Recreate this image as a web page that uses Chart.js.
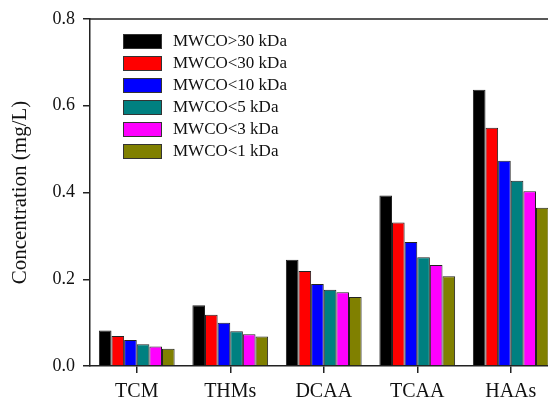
<!DOCTYPE html>
<html>
<head>
<meta charset="utf-8">
<script src="https://cdn.jsdelivr.net/npm/chart.js@4/dist/chart.umd.min.js"></script>
<style>
html,body{margin:0;padding:0;background:#fff;overflow:hidden;width:548px;height:397px;}
canvas{display:block;}
</style>
</head>
<body>
<canvas id="c" width="560" height="397"></canvas>
<script>
const categories = ['TCM', 'THMs', 'DCAA', 'TCAA', 'HAAs'];
const seriesLabels = ['MWCO>30 kDa', 'MWCO<30 kDa', 'MWCO<10 kDa', 'MWCO<5 kDa', 'MWCO<3 kDa', 'MWCO<1 kDa'];
const mwcoAbove30 = [0.082, 0.140, 0.245, 0.393, 0.637];
const mwcoBelow30 = [0.069, 0.118, 0.219, 0.331, 0.549];
const mwcoBelow10 = [0.060, 0.100, 0.189, 0.286, 0.473];
const mwcoBelow5  = [0.050, 0.080, 0.176, 0.251, 0.427];
const mwcoBelow3  = [0.045, 0.073, 0.170, 0.233, 0.403];
const mwcoBelow1  = [0.040, 0.068, 0.159, 0.207, 0.365];
const yTicks = [0.0, 0.2, 0.4, 0.6, 0.8];
const seriesColors = ['#000000', '#ff0000', '#0000ff', '#008080', '#ff00ff', '#808000'];

const seriesValues = [mwcoAbove30, mwcoBelow30, mwcoBelow10, mwcoBelow5, mwcoBelow3, mwcoBelow1];
const FONT = "'Liberation Serif', 'Times New Roman', serif";
const AXIS = '#222222';

const frameAndLegend = {
  id: 'frameAndLegend',
  afterDraw(chart) {
    const ctx = chart.ctx;
    const a = chart.chartArea;
    ctx.save();
    ctx.strokeStyle = AXIS;
    ctx.lineWidth = 1.5;
    ctx.beginPath();
    ctx.moveTo(a.left, a.top);
    ctx.lineTo(a.right, a.top);
    ctx.lineTo(a.right, a.bottom);
    ctx.stroke();
    // legend
    const bx = a.left + 33, by = a.top + 15, bw = 39, bh = 15, step = 22;
    ctx.font = '17px ' + FONT;
    ctx.textBaseline = 'middle';
    ctx.textAlign = 'left';
    chart.data.datasets.forEach((ds, i) => {
      const y = by + i * step;
      ctx.fillStyle = ds.backgroundColor;
      ctx.fillRect(bx, y, bw, bh);
      ctx.strokeStyle = '#333';
      ctx.lineWidth = 1;
      ctx.strokeRect(bx + 0.5, y + 0.5, bw - 1, bh - 1);
      ctx.fillStyle = '#111';
      ctx.fillText(ds.label, bx + 50, y + bh / 2 + 0.5);
    });
    ctx.restore();
  }
};

new Chart(document.getElementById('c'), {
  type: 'bar',
  data: {
    labels: categories,
    datasets: seriesLabels.map((lab, i) => ({
      label: lab,
      data: seriesValues[i],
      backgroundColor: seriesColors[i],
      borderColor: '#222',
      borderWidth: 1,
      categoryPercentage: 0.81,
      barPercentage: 1.0
    }))
  },
  options: {
    responsive: false,
    animation: false,
    devicePixelRatio: 1,
    layout: { padding: { top: 19, right: 2.5, left: 0, bottom: 0 } },
    plugins: { legend: { display: false }, tooltip: { enabled: false } },
    scales: {
      x: {
        grid: { display: true, drawOnChartArea: false, drawTicks: true, tickLength: 7, offset: false, color: AXIS, lineWidth: 1.5 },
        border: { display: true, color: AXIS, width: 1.5 },
        ticks: { color: '#111', font: { family: FONT, size: 20 }, padding: 7, maxRotation: 0 },
        afterFit(scale) { scale.height = 31; }
      },
      y: {
        min: 0, max: 0.8,
        afterBuildTicks(scale) { scale.ticks = yTicks.map(v => ({ value: v })); },
        grid: { display: true, drawOnChartArea: false, drawTicks: true, tickLength: 7, color: AXIS, lineWidth: 1.5 },
        border: { display: true, color: AXIS, width: 1.5 },
        ticks: { color: '#111', font: { family: FONT, size: 18 }, padding: 8, callback: v => Number(v).toFixed(1) },
        title: { display: true, text: 'Concentration (mg/L)', color: '#111', font: { family: FONT, size: 21 }, padding: { top: 8, bottom: 0 } },
        afterFit(scale) { scale.width = 90; }
      }
    }
  },
  plugins: [frameAndLegend]
});
</script>
</body>
</html>
